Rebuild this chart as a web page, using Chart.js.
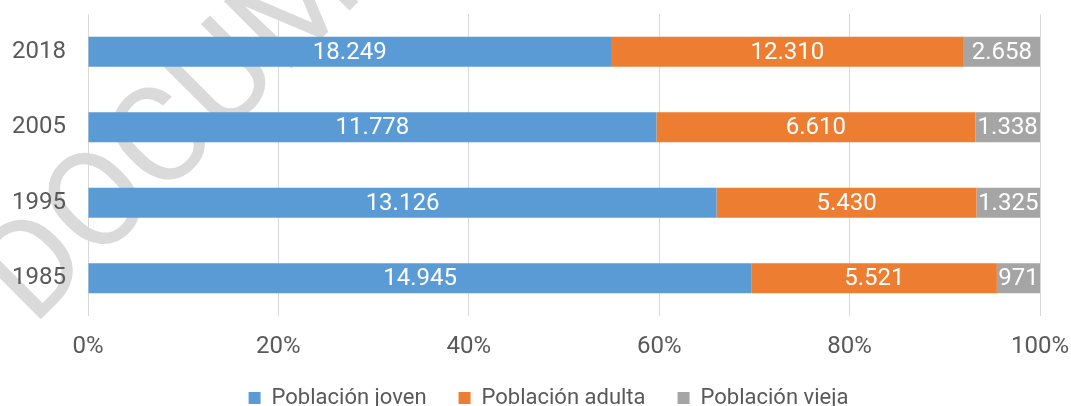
<!DOCTYPE html>
<html>
<head>
<meta charset="utf-8">
<script src="https://cdn.jsdelivr.net/npm/chart.js@4"></script>
<style>
  html, body { margin: 0; padding: 0; background: #fff; overflow: hidden; }
  #wrap { position: relative; width: 1071px; height: 419px; }
</style>
</head>
<body>
<div id="wrap"><canvas id="chart"></canvas></div>
<script>
// ===== data =====
const years      = ['2018', '2005', '1995', '1985'];
const joven      = [18249, 11778, 13126, 14945];
const adulta     = [12310, 6610, 5430, 5521];
const vieja      = [2658, 1338, 1325, 971];
const seriesNames = ['Población joven', 'Población adulta', 'Población vieja'];
const xTicks     = [0, 20, 40, 60, 80, 100];

const colors = ['#5B9BD5', '#ED7D31', '#A5A5A5'];
const FONT = 'Roboto, "Liberation Sans", sans-serif';

// share of each group in the year total (100% stacked)
const totals = years.map(function(y, i) { return joven[i] + adulta[i] + vieja[i]; });
function share(arr) {
  return arr.map(function(v, i) { return v / totals[i] * 100; });
}
const rawSeries = [joven, adulta, vieja];

function fmt(n) {
  return String(n).replace(/\B(?=(\d{3})+(?!\d))/g, '.');
}

// watermark behind everything
const watermark = {
  id: 'watermark',
  beforeDraw: function(chart) {
    const ctx = chart.ctx;
    ctx.save();
    ctx.translate(33, 327);
    ctx.rotate(-45 * Math.PI / 180);
    ctx.font = '134px Roboto, sans-serif';
    ctx.fillStyle = '#dadada';
    ctx.textAlign = 'left';
    ctx.textBaseline = 'alphabetic';
    ctx.fillText('DOCUMENTO', 0, 0);
    ctx.restore();
  }
};

// value labels in the middle of each segment
const valueLabels = {
  id: 'valueLabels',
  afterDatasetsDraw: function(chart) {
    const ctx = chart.ctx;
    ctx.save();
    ctx.font = '24px ' + FONT;
    ctx.fillStyle = '#ffffff';
    ctx.textAlign = 'center';
    ctx.textBaseline = 'middle';
    chart.data.datasets.forEach(function(ds, di) {
      chart.getDatasetMeta(di).data.forEach(function(bar, i) {
        const p = bar.getCenterPoint();
        ctx.fillText(fmt(rawSeries[di][i]), p.x, p.y + 1);
      });
    });
    ctx.restore();
  }
};

// move the legend a bit to the right, like the original
const legendShift = {
  id: 'legendShift',
  afterLayout: function(chart) {
    chart.legend.left = 26;
  }
};

const ctx = document.getElementById('chart').getContext('2d');
new Chart(ctx, {
  type: 'bar',
  data: {
    labels: years,
    datasets: [joven, adulta, vieja].map(function(arr, i) {
      return {
        label: seriesNames[i],
        data: share(arr),
        backgroundColor: colors[i],
        borderWidth: 0,
        barPercentage: 0.4,
        categoryPercentage: 1.0
      };
    })
  },
  options: {
    indexAxis: 'y',
    responsive: true,
    maintainAspectRatio: false,
    animation: false,
    layout: { padding: { top: 14, right: 0, left: 0, bottom: 0 } },
    plugins: {
      tooltip: { enabled: false },
      legend: {
        position: 'bottom',
        labels: {
          color: '#595959',
          font: { family: FONT, size: 22 },
          boxWidth: 12,
          boxHeight: 12,
          padding: 32
        }
      }
    },
    scales: {
      x: {
        stacked: true,
        min: 0,
        max: 100,
        afterBuildTicks: function(s) { s.ticks = xTicks.map(function(v) { return { value: v }; }); },
        afterFit: function(s) {
          s.height = s.chart.height - s.chart.legend.height - 316;
          s.paddingLeft = 0;
          s.paddingRight = 31;
          s.paddingTop = 0;
          s.paddingBottom = 0;
        },
        ticks: {
          color: '#595959',
          font: { family: FONT, size: 24 },
          padding: 17,
          callback: function(v) { return v + '%'; }
        },
        grid: { color: '#d9d9d9', lineWidth: 1, drawTicks: false },
        border: { display: false }
      },
      y: {
        stacked: true,
        afterFit: function(s) {
          s.width = 88;
          s.paddingTop = 0;
          s.paddingBottom = 0;
        },
        ticks: {
          color: '#595959',
          font: { family: FONT, size: 24 },
          padding: 22
        },
        grid: { display: false, drawTicks: false },
        border: { display: false }
      }
    }
  },
  plugins: [watermark, valueLabels, legendShift]
});
</script>
</body>
</html>
